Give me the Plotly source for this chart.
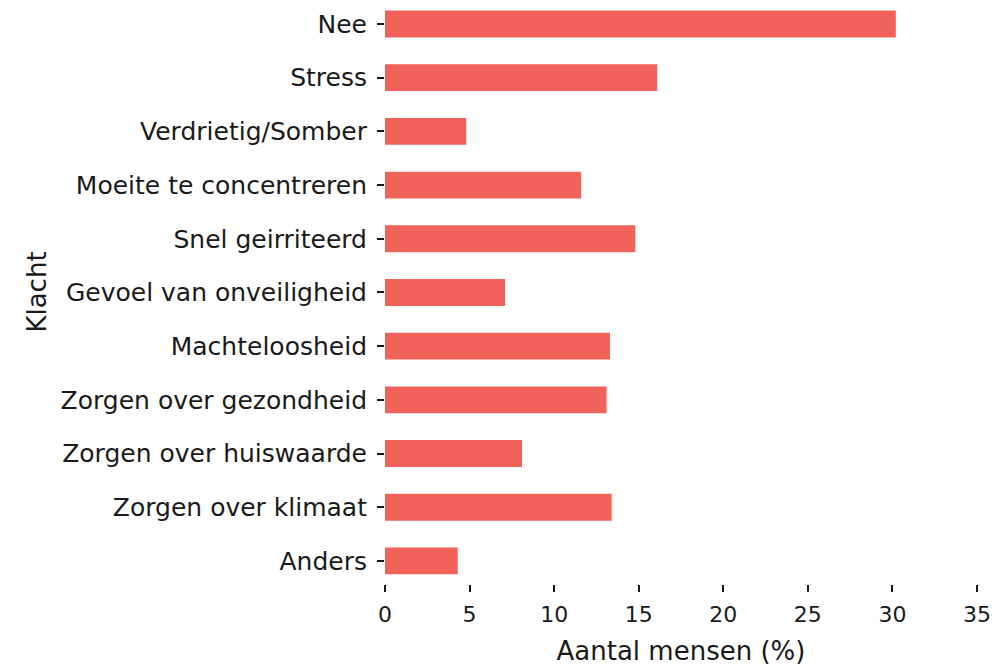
import plotly.graph_objects as go

# klachten en percentage mensen (van boven naar beneden)
klachten = [
    "Nee",
    "Stress",
    "Verdrietig/Somber",
    "Moeite te concentreren",
    "Snel geirriteerd",
    "Gevoel van onveiligheid",
    "Machteloosheid",
    "Zorgen over gezondheid",
    "Zorgen over huiswaarde",
    "Zorgen over klimaat",
    "Anders",
]
percentages = [30.2, 16.1, 4.8, 11.6, 14.8, 7.1, 13.3, 13.1, 8.1, 13.4, 4.3]
x_ticks = [0, 5, 10, 15, 20, 25, 30, 35]

font_family = "Century Gothic, DejaVu Sans, sans-serif"

fig = go.Figure(
    go.Bar(
        x=percentages,
        y=klachten,
        orientation="h",
        width=0.5,
        marker=dict(color="#f0625a", line=dict(width=0)),
    )
)

fig.update_layout(
    width=996,
    height=666,
    plot_bgcolor="white",
    paper_bgcolor="white",
    margin=dict(l=385, r=19, t=0, b=82),
    font=dict(family=font_family, size=22, color="#1a1a1a"),
    showlegend=False,
)

fig.update_xaxes(
    range=[0, 35],
    tickvals=x_ticks,
    tickfont=dict(size=22),
    ticklabelstandoff=4,
    showgrid=False,
    zeroline=False,
    showline=False,
    ticks="outside",
    ticklen=7,
    tickwidth=2,
    tickcolor="#1a1a1a",
    automargin=False,
    title=dict(text="Aantal mensen (%)", standoff=16),
)

fig.update_yaxes(
    categoryorder="array",
    categoryarray=klachten,
    range=[10.43, -0.447],
    tickfont=dict(size=25),
    ticklabelstandoff=5,
    showgrid=False,
    zeroline=False,
    showline=False,
    ticks="outside",
    ticklen=7,
    tickwidth=2,
    tickcolor="#1a1a1a",
    automargin=False,
    title=dict(text="Klacht", standoff=6),
)

# drop the default 8px page margin so the whole figure fits the window
fig.write_html(
    "out.html",
    config={"displayModeBar": False},
    post_script="document.body.style.margin='0';",
)
